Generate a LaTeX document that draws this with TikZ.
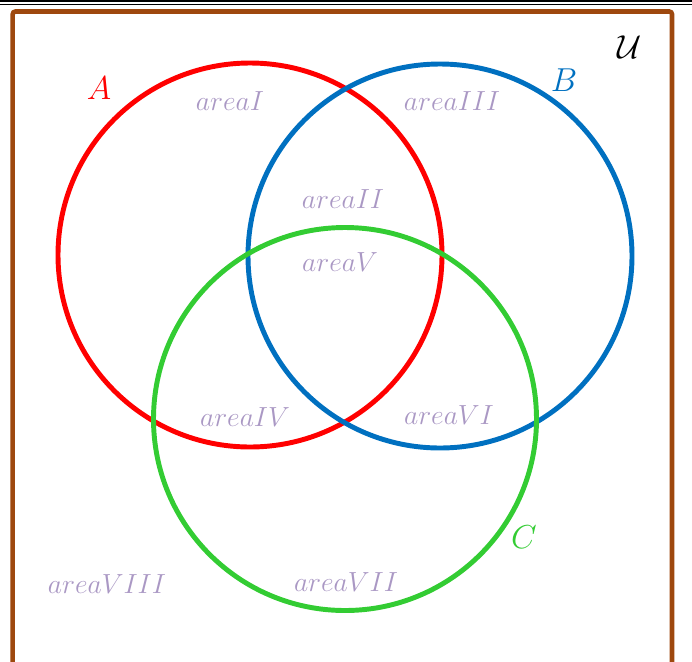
\documentclass[tikz,border=0pt]{standalone}
\usepackage{amsmath}
\definecolor{setred}{RGB}{255,0,0}
\definecolor{setblue}{RGB}{0,112,192}
\definecolor{setgreen}{RGB}{51,204,51}
\definecolor{framebrown}{RGB}{158,72,14}
\definecolor{lavender}{RGB}{170,152,196}
\begin{document}
\begin{tikzpicture}[x=0.75pt,y=-0.75pt,
  setcircle/.style={line width=3.7pt},
  arealabel/.style={text=lavender,font=\fontsize{22}{24}\selectfont,inner sep=0pt},
  setname/.style={font=\fontsize{25}{27}\selectfont,inner sep=0pt}]
\useasboundingbox (0,0) rectangle (692,661);
\draw[line width=1.6pt] (0,1.2) -- (692,1.2);
\draw[line width=0.9pt] (0,4.8) -- (692,4.8);
\draw[framebrown,line width=3.4pt,rounded corners=2pt] (12.7,700) -- (12.7,11.5) -- (672,11.5) -- (672,700);
\node[setcircle,draw=setred,circle,minimum size=384*0.75pt] (A) at (250,255) {};
\node[setcircle,draw=setblue,circle,minimum size=384*0.75pt] (B) at (440,256) {};
\node[setcircle,draw=setgreen,circle,minimum size=383*0.75pt] (C) at (345,419) {};
\node[setname,text=setred] (lA) at (99,88) {$A$};
\node[setname,text=setblue] (lB) at (564,80) {$B$};
\node[setname,text=setgreen] (lC) at (524,537) {$C$};
\node[setname] (lU) at (630,47) {$\mathcal{U}$};
\node[arealabel] (a1) at (230,101) {$areaI$};
\node[arealabel] (a3) at (452,101) {$areaIII$};
\node[arealabel] (a2) at (343,199) {$areaII$};
\node[arealabel] (a5) at (340,262) {$areaV$};
\node[arealabel] (a4) at (245,417) {$areaIV$};
\node[arealabel] (a6) at (449,415) {$areaVI$};
\node[arealabel] (a7) at (346,582) {$areaVII$};
\node[arealabel] (a8) at (107,584) {$areaVIII$};
\end{tikzpicture}
\end{document}
